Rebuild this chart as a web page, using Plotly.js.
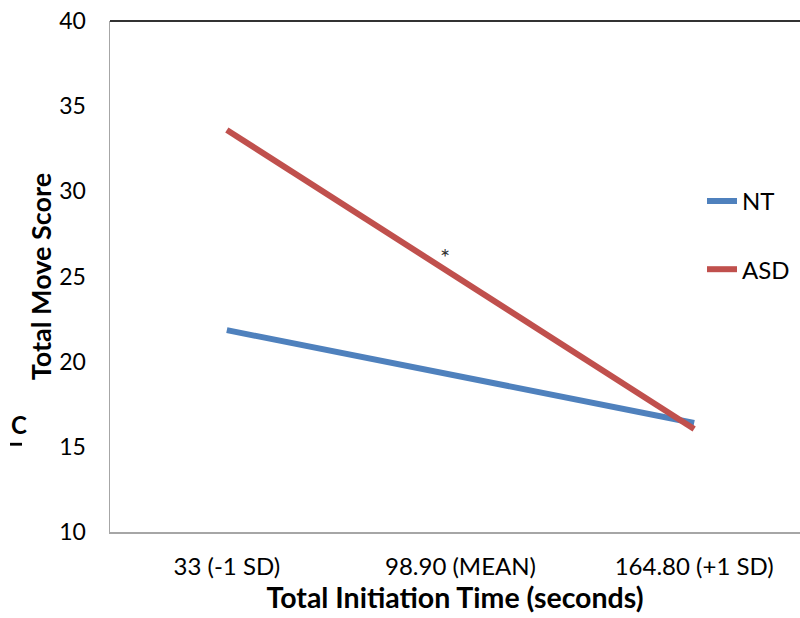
<!DOCTYPE html>
<html>
<head>
<meta charset="utf-8">
<script src="https://cdn.plot.ly/plotly-3.0.1.min.js"></script>
<style>html,body{margin:0;padding:0;background:#fff;}#chart{width:800px;height:618px;}</style>
</head>
<body>
<div id="chart"></div>
<script>
var categories = ["33 (-1 SD)", "98.90 (MEAN)", "164.80 (+1 SD)"];
var ntValues = [21.85, 19.1, 16.4];
var asdValues = [33.6, 24.85, 16.05];
var yTicks = [10, 15, 20, 25, 30, 35, 40];

var font = "Lato, 'Open Sans', sans-serif";

var traces = [
  {x: categories, y: ntValues, name: "NT", type: "scatter", mode: "lines",
   line: {color: "#4F81BD", width: 6}, legendgroup: "a"},
  {x: categories, y: asdValues, name: "ASD", type: "scatter", mode: "lines",
   line: {color: "#C0504D", width: 6}, legendgroup: "b"}
];

var layout = {
  width: 800, height: 618,
  margin: {l: 110, r: 0, t: 21, b: 86},
  paper_bgcolor: "#fff", plot_bgcolor: "#fff",
  font: {family: font, color: "#000"},
  showlegend: true,
  legend: {x: 0.858, y: 0.691, xanchor: "left", yanchor: "top",
           font: {size: 24, family: font, color: "#000"},
           tracegroupgap: 34, itemwidth: 30, bgcolor: "rgba(0,0,0,0)"},
  xaxis: {type: "category", range: [-0.5, 2.453], showgrid: false, zeroline: false,
          showline: true, linecolor: "#a6a6a6", linewidth: 1.5, ticks: "",
          ticklabelstandoff: 13, tickfont: {size: 24, family: font},
          title: {text: "<b>Total Initiation Time (seconds)</b>", font: {size: 28.5, family: font}, standoff: 7},
          fixedrange: true},
  yaxis: {range: [10, 40], tickvals: yTicks, showgrid: false, zeroline: false,
          showline: true, linecolor: "#a6a6a6", linewidth: 1.5, ticks: "",
          ticklabelstandoff: 18, tickfont: {size: 23, family: font},
          title: {text: "<b>Total Move Score</b>", font: {size: 27, family: font}, standoff: 0},
          fixedrange: true},
  shapes: [
    {type: "line", xref: "paper", yref: "paper", x0: 0, x1: 1, y0: 1, y1: 1,
     line: {color: "#333", width: 2}},
    {type: "rect", xref: "paper", yref: "paper", x0: -0.1449, x1: -0.1275, y0: 0.169, y1: 0.1745,
     fillcolor: "#000", line: {width: 0}}
  ],
  annotations: [
    {x: "98.90 (MEAN)", y: 26.2, xref: "x", yref: "y", text: "*", showarrow: false,
     xshift: -15, font: {size: 24, family: font, color: "#333"}},
    {xref: "paper", yref: "paper", x: -0.1449, y: 0.2035, xanchor: "left", yanchor: "middle",
     yshift: 4, text: "<b>C</b>", showarrow: false, borderpad: 0,
     font: {size: 24, family: font, color: "#000"}}
  ]
};

Plotly.newPlot("chart", traces, layout, {displayModeBar: false, staticPlot: true});
</script>
</body>
</html>
